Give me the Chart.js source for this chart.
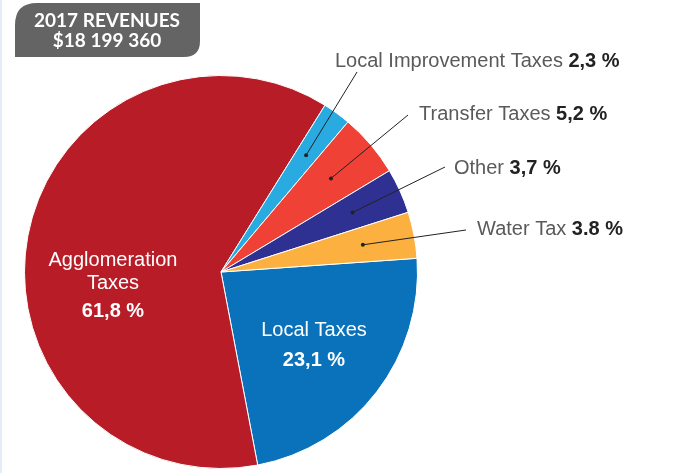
<!DOCTYPE html>
<html>
<head>
<meta charset="utf-8">
<script src="https://cdn.jsdelivr.net/npm/chart.js@4"></script>
<style>
  html, body { margin: 0; padding: 0; background: #ffffff; }
  #wrap { position: relative; width: 690px; height: 473px; overflow: hidden; }
  #edge { position: absolute; left: 0; top: 0; width: 2px; height: 473px; background: #e4ecf7; }
  canvas { position: absolute; left: 0; top: 0; }
</style>
</head>
<body>
<div id="wrap">
  <div id="edge"></div>
  <canvas id="c" width="690" height="473"></canvas>
</div>
<script>
const titleLines = ["2017 REVENUES", "$18 199 360"];
const categories = ["Local Taxes", "Agglomeration Taxes", "Local Improvement Taxes", "Transfer Taxes", "Other", "Water Tax"];
const values = [23.1, 61.8, 2.3, 5.2, 3.7, 3.8];
const valueLabels = ["23,1 %", "61,8 %", "2,3 %", "5,2 %", "3,7 %", "3.8 %"];
const colors = ["#0a72ba", "#b71c27", "#29abe2", "#ef4136", "#2e3192", "#fbb040"];

// inside labels: [index, lines of category name]
const insideNames = { 0: ["Local Taxes"], 1: ["Agglomeration", "Taxes"] };

// layout of text (positions are styling, not data)
const insideLayout = {
  0: { x: 314, ys: [330.5], vy: 360.5 },
  1: { x: 113, ys: [260, 283.5], vy: 311.5 }
};
const outsideLayout = {
  2: { x: 335, y: 61, lx: 357, ly: 72 },
  3: { x: 419, y: 114.5, lx: 408, ly: 115 },
  4: { x: 454, y: 168, lx: 445, ly: 167 },
  5: { x: 477, y: 229.5, lx: 466, ly: 230 }
};

const labelPlugin = {
  id: 'labels',
  afterDraw(chart) {
    const ctx = chart.ctx;
    const meta = chart.getDatasetMeta(0);
    ctx.save();
    // title box
    ctx.fillStyle = '#646464';
    const bx = 15, by = 3, bw = 185, bh = 54;
    ctx.beginPath();
    ctx.moveTo(bx + 22, by);
    ctx.lineTo(bx + bw, by);
    ctx.lineTo(bx + bw, by + bh - 16);
    ctx.quadraticCurveTo(bx + bw, by + bh, bx + bw - 16, by + bh);
    ctx.lineTo(bx, by + bh);
    ctx.lineTo(bx, by + 22);
    ctx.quadraticCurveTo(bx, by, bx + 22, by);
    ctx.closePath();
    ctx.fill();
    ctx.fillStyle = '#ffffff';
    ctx.font = 'bold 19px Lato, "Open Sans", sans-serif';
    ctx.textAlign = 'center';
    ctx.textBaseline = 'middle';
    ctx.fillText(titleLines[0], 107, 20.5);
    ctx.fillText(titleLines[1], 107, 41);

    // inside labels
    Object.keys(insideLayout).forEach(k => {
      const L = insideLayout[k];
      ctx.fillStyle = '#ffffff';
      ctx.font = '20px "Liberation Sans", Arial, sans-serif';
      insideNames[k].forEach((t, j) => ctx.fillText(t, L.x, L.ys[j]));
      ctx.font = 'bold 20px "Liberation Sans", Arial, sans-serif';
      ctx.fillText(valueLabels[k], L.x, L.vy);
    });

    // outside labels with leaders
    Object.keys(outsideLayout).forEach(k => {
      const L = outsideLayout[k];
      const arc = meta.data[k];
      const p = arc.getProps(['x', 'y', 'startAngle', 'endAngle', 'outerRadius']);
      const mid = (p.startAngle + p.endAngle) / 2;
      const r = p.outerRadius * 0.735;
      const dx = p.x + Math.cos(mid) * r;
      const dy = p.y + Math.sin(mid) * r;
      ctx.strokeStyle = '#222222';
      ctx.lineWidth = 1;
      ctx.beginPath();
      ctx.moveTo(dx, dy);
      ctx.lineTo(L.lx, L.ly);
      ctx.stroke();
      ctx.fillStyle = '#222222';
      ctx.beginPath();
      ctx.arc(dx, dy, 2, 0, Math.PI * 2);
      ctx.fill();
      ctx.textAlign = 'left';
      ctx.font = '20px "Liberation Sans", Arial, sans-serif';
      ctx.fillStyle = '#5a5a5a';
      const name = categories[k] + ' ';
      ctx.fillText(name, L.x, L.y);
      const w = ctx.measureText(name).width;
      ctx.font = 'bold 20px "Liberation Sans", Arial, sans-serif';
      ctx.fillStyle = '#222222';
      ctx.fillText(valueLabels[k], L.x + w, L.y);
      ctx.textAlign = 'center';
    });
    ctx.restore();
  }
};

new Chart(document.getElementById('c'), {
  type: 'pie',
  data: {
    labels: categories,
    datasets: [{
      data: values,
      backgroundColor: colors,
      borderColor: '#ffffff',
      borderWidth: 1,
      hoverOffset: 0
    }]
  },
  options: {
    responsive: false,
    animation: false,
    rotation: 86,
    layout: { padding: { left: 24, right: 272, top: 75, bottom: 4 } },
    plugins: { legend: { display: false }, tooltip: { enabled: false } }
  },
  plugins: [labelPlugin]
});
</script>
</body>
</html>
